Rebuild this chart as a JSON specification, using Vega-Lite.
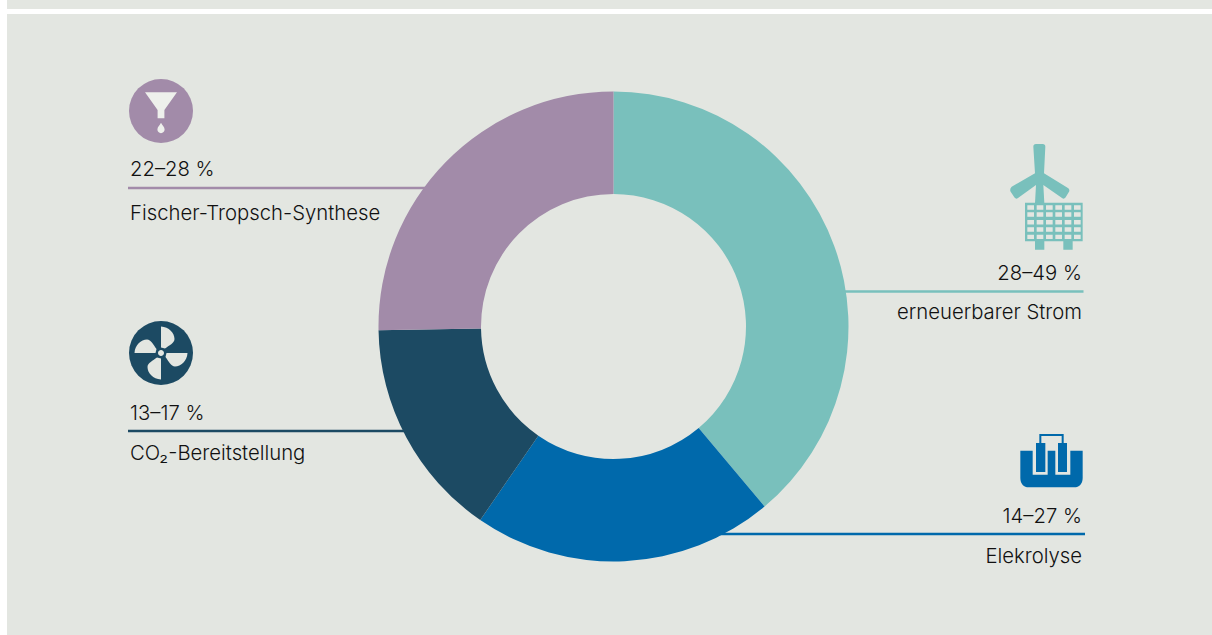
{
  "$schema": "https://vega.github.io/schema/vega-lite/v6.json",
  "width": 1212,
  "height": 635,
  "autosize": {"type": "fit", "contains": "padding"},
  "padding": 0,
  "background": "#ffffff",
  "view": {"stroke": null},
  "config": {"style": {"cell": {"stroke": null}}},
  "datasets": {
    "costs": [
      {"item": "erneuerbarer Strom", "low": 28, "high": 49, "mid": 38.5, "rank": 1, "lineFrom": 845, "lineTo": 1083.5, "lineAt": 291.5, "iconX": 1040, "iconY": 195},
      {"item": "Elekrolyse", "low": 14, "high": 27, "mid": 20.5, "rank": 2, "lineFrom": 720, "lineTo": 1085, "lineAt": 534, "iconX": 1050, "iconY": 460},
      {"item": "CO₂-Bereitstellung", "low": 13, "high": 17, "mid": 15, "rank": 3, "lineFrom": 128, "lineTo": 405, "lineAt": 431, "iconX": 161, "iconY": 353},
      {"item": "Fischer-Tropsch-Synthese", "low": 22, "high": 28, "mid": 25, "rank": 4, "lineFrom": 128, "lineTo": 425, "lineAt": 188, "iconX": 161, "iconY": 111}
    ],
    "captions": [
      {"text": "28–49 %", "side": "right", "x": 1082, "y": 280},
      {"text": "erneuerbarer Strom", "side": "right", "x": 1082, "y": 319},
      {"text": "14–27 %", "side": "right", "x": 1082, "y": 523},
      {"text": "Elekrolyse", "side": "right", "x": 1082, "y": 563},
      {"text": "22–28 %", "side": "left", "x": 130, "y": 176},
      {"text": "Fischer-Tropsch-Synthese", "side": "left", "x": 130, "y": 220},
      {"text": "13–17 %", "side": "left", "x": 130, "y": 420},
      {"text": "CO₂-Bereitstellung", "side": "left", "x": 130, "y": 460}
    ],
    "panels": [
      {"x": 7, "x2": 1212, "y": 0, "y2": 9},
      {"x": 7, "x2": 1212, "y": 14, "y2": 635}
    ]
  },
  "layer": [
    {
      "data": {"name": "panels"},
      "mark": {"type": "rect", "fill": "#e3e6e1"},
      "encoding": {
        "x": {"field": "x", "type": "quantitative", "axis": null, "scale": {"domain": [0, 1212], "nice": false, "zero": false}},
        "x2": {"field": "x2"},
        "y": {"field": "y", "type": "quantitative", "axis": null, "scale": {"domain": [0, 635], "reverse": true, "nice": false, "zero": false}},
        "y2": {"field": "y2"}
      }
    },
    {
      "data": {"name": "costs"},
      "mark": {"type": "rule", "strokeWidth": 2.5},
      "encoding": {
        "x": {"field": "lineFrom", "type": "quantitative"},
        "x2": {"field": "lineTo"},
        "y": {"field": "lineAt", "type": "quantitative"},
        "color": {"field": "item", "type": "nominal", "legend": null, "scale": {"domain": ["erneuerbarer Strom", "Elekrolyse", "CO₂-Bereitstellung", "Fischer-Tropsch-Synthese"], "range": ["#79c0bc", "#0069ab", "#1c4a63", "#a28ba9"]}}
      }
    },
    {
      "data": {"name": "costs"},
      "mark": {"type": "arc", "innerRadius": 132.5, "outerRadius": 235},
      "encoding": {
        "x": {"datum": 613.5, "type": "quantitative"},
        "y": {"datum": 326.5, "type": "quantitative"},
        "theta": {"field": "mid", "type": "quantitative", "stack": true},
        "order": {"field": "rank", "type": "quantitative"},
        "color": {"field": "item", "type": "nominal", "legend": null}
      }
    },
    {
      "data": {"name": "costs"},
      "transform": [{"filter": "datum.rank >= 3"}],
      "mark": {"type": "point", "shape": "circle", "filled": true, "opacity": 1, "size": 4096},
      "encoding": {
        "x": {"field": "iconX", "type": "quantitative"},
        "y": {"field": "iconY", "type": "quantitative"},
        "color": {"field": "item", "type": "nominal", "legend": null}
      }
    },
    {
      "data": {"name": "costs"},
      "transform": [{"filter": "datum.rank === 4"}],
      "mark": {"type": "point", "filled": true, "opacity": 1, "size": 4, "color": "#eef0ec",
        "shape": "M-16,-18.7 L16,-18.7 L3.4,-1 L3.4,7.3 L-3.4,7.3 L-3.4,-1 Z M0,11.7 C1.5,14.5 3.6,16 3.6,18.6 A3.6,3.6 0 1,1 -3.6,18.6 C-3.6,16 -1.5,14.5 0,11.7 Z"},
      "encoding": {
        "x": {"field": "iconX", "type": "quantitative"},
        "y": {"field": "iconY", "type": "quantitative"}
      }
    },
    {
      "data": {"name": "costs"},
      "transform": [{"filter": "datum.rank === 3"}],
      "mark": {"type": "point", "filled": true, "opacity": 1, "size": 4, "color": "#e3e6e1",
        "shape": "M0,-26.5 C8,-26 13.5,-20 13.5,-14 C13.5,-10 8,-7.5 4,-4.5 L0,-5.5 Z M26.5,0 C26,8 20,13.5 14,13.5 C10,13.5 7.5,8 4.5,4 L5.5,0 Z M0,26.5 C-8,26 -13.5,20 -13.5,14 C-13.5,10 -8,7.5 -4,4.5 L0,5.5 Z M-26.5,0 C-26,-8 -20,-13.5 -14,-13.5 C-10,-13.5 -7.5,-8 -4.5,-4 L-5.5,0 Z M3,0 A3,3 0 1,1 -3,0 A3,3 0 1,1 3,0 Z"},
      "encoding": {
        "x": {"field": "iconX", "type": "quantitative"},
        "y": {"field": "iconY", "type": "quantitative"}
      }
    },
    {
      "data": {"name": "costs"},
      "transform": [{"filter": "datum.rank === 2"}],
      "mark": {"type": "point", "filled": true, "opacity": 1, "size": 4,
        "shape": "M-29.67,-9.33 L-17.33,-9.33 L-17.33,14.67 L-2.33,14.67 L-2.33,-9.33 L5.33,-9.33 L5.33,14.67 L20.33,14.67 L20.33,-9.33 L32.67,-9.33 L32.67,18 C32.67,24 29,27.33 24.33,27.33 L-21.33,27.33 C-26,27.33 -29.67,24 -29.67,18 Z M-14,-17 L-4.67,-17 L-4.67,12 L-14,12 Z M8,-17 L17,-17 L17,12 L8,12 Z M-10.67,-17 L-10.67,-26 L13.67,-26 L13.67,-17 L11.67,-17 L11.67,-24 L-8.67,-24 L-8.67,-17 Z"},
      "encoding": {
        "x": {"field": "iconX", "type": "quantitative"},
        "y": {"field": "iconY", "type": "quantitative"},
        "color": {"field": "item", "type": "nominal", "legend": null}
      }
    },
    {
      "data": {"name": "costs"},
      "transform": [{"filter": "datum.rank === 1"}],
      "mark": {"type": "point", "filled": true, "opacity": 1, "size": 4,
        "shape": "M-6.67,-48.33 Q-6.67,-51 -4,-51 L2.67,-51 Q5.33,-51 5.33,-48.33 L4,-21.67 L28.33,-6.67 Q30,-5 29,-3.33 L25.5,2.5 Q24,4.5 22,3 L3.33,-10 L4.33,8 L-5,8 L-4,-10 L-22,3 Q-24,4.5 -25.5,2.5 L-29.5,-3.5 Q-30.5,-6 -28.33,-8.33 L-5,-21.67 Z M-15,7.7 L42.67,7.7 L42.67,46.3 L-15,46.3 Z M-5,46 L4.33,46 L4.33,54.7 L-5,54.7 Z M23.33,46 L32.67,46 L32.67,54.7 L23.33,54.7 Z"},
      "encoding": {
        "x": {"field": "iconX", "type": "quantitative"},
        "y": {"field": "iconY", "type": "quantitative"},
        "color": {"field": "item", "type": "nominal", "legend": null}
      }
    },
    {
      "data": {"name": "costs"},
      "transform": [{"filter": "datum.rank === 1"}],
      "mark": {"type": "point", "filled": true, "opacity": 1, "size": 4, "color": "#e3e6e1",
        "shape": "M-12.67,10.3h6.67v4.4h-6.67z M-3.33,10.3h6.67v4.4h-6.67z M6,10.3h6.67v4.4h-6.67z M15.33,10.3h6.67v4.4h-6.67z M24.67,10.3h6.67v4.4h-6.67z M34,10.3h6.67v4.4h-6.67z M-12.67,17.3h6.67v4.4h-6.67z M-3.33,17.3h6.67v4.4h-6.67z M6,17.3h6.67v4.4h-6.67z M15.33,17.3h6.67v4.4h-6.67z M24.67,17.3h6.67v4.4h-6.67z M34,17.3h6.67v4.4h-6.67z M-12.67,25h6.67v4.4h-6.67z M-3.33,25h6.67v4.4h-6.67z M6,25h6.67v4.4h-6.67z M15.33,25h6.67v4.4h-6.67z M24.67,25h6.67v4.4h-6.67z M34,25h6.67v4.4h-6.67z M-12.67,32.3h6.67v4.4h-6.67z M-3.33,32.3h6.67v4.4h-6.67z M6,32.3h6.67v4.4h-6.67z M15.33,32.3h6.67v4.4h-6.67z M24.67,32.3h6.67v4.4h-6.67z M34,32.3h6.67v4.4h-6.67z M-12.67,39.7h6.67v4.2h-6.67z M-3.33,39.7h6.67v4.2h-6.67z M6,39.7h6.67v4.2h-6.67z M15.33,39.7h6.67v4.2h-6.67z M24.67,39.7h6.67v4.2h-6.67z M34,39.7h6.67v4.2h-6.67z"},
      "encoding": {
        "x": {"field": "iconX", "type": "quantitative"},
        "y": {"field": "iconY", "type": "quantitative"}
      }
    },
    {
      "data": {"name": "captions"},
      "transform": [{"filter": "datum.side === 'left'"}],
      "mark": {"type": "text", "align": "left", "baseline": "alphabetic", "font": "Inter", "fontWeight": 300, "fontSize": 20.3, "color": "#111111"},
      "encoding": {
        "x": {"field": "x", "type": "quantitative"},
        "y": {"field": "y", "type": "quantitative"},
        "text": {"field": "text"}
      }
    },
    {
      "data": {"name": "captions"},
      "transform": [{"filter": "datum.side === 'right'"}],
      "mark": {"type": "text", "align": "right", "baseline": "alphabetic", "font": "Inter", "fontWeight": 300, "fontSize": 20.3, "color": "#111111"},
      "encoding": {
        "x": {"field": "x", "type": "quantitative"},
        "y": {"field": "y", "type": "quantitative"},
        "text": {"field": "text"}
      }
    }
  ]
}
